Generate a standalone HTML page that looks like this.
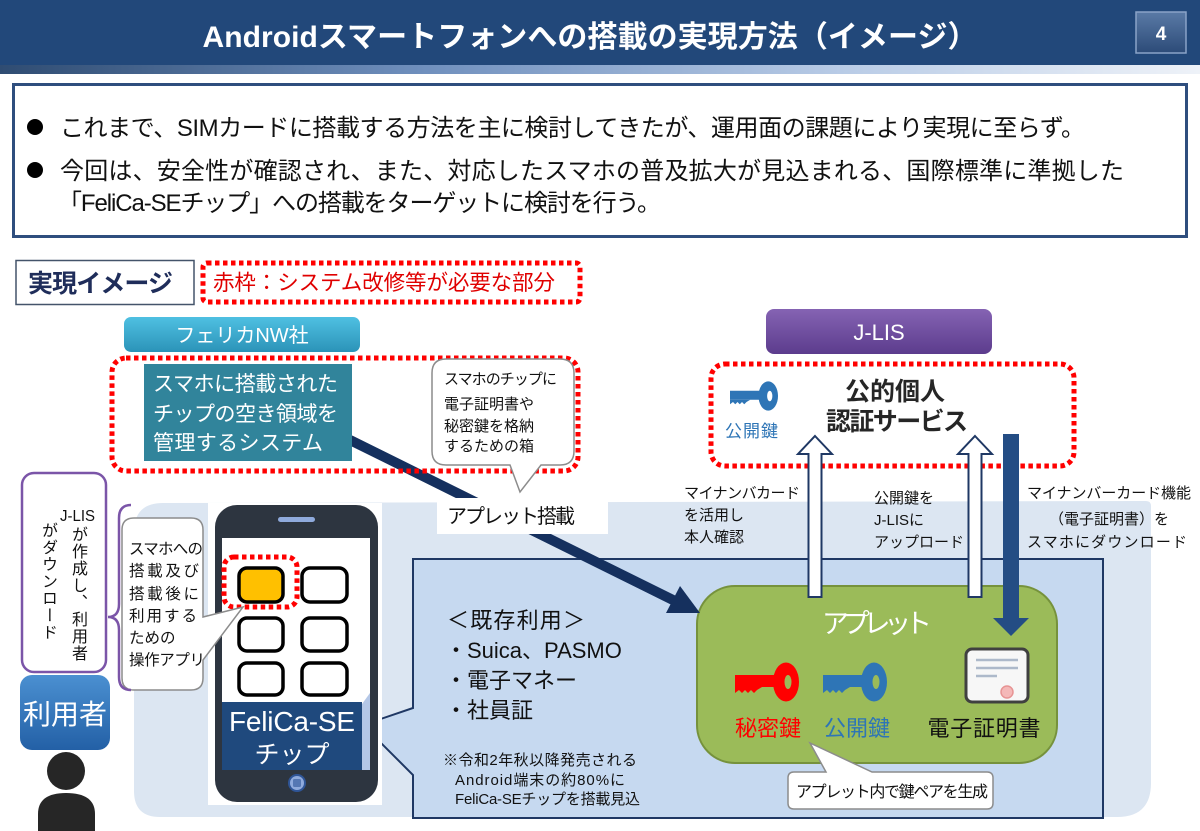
<!DOCTYPE html>
<html><head><meta charset="utf-8">
<style>
html,body{margin:0;padding:0;background:#fff;}
#w{position:relative;width:1200px;height:831px;overflow:hidden;background:#fff;font-family:"Liberation Sans","Noto Sans CJK JP",sans-serif;}
svg{position:absolute;left:0;top:0;}
svg text{font-family:"Liberation Sans","Noto Sans CJK JP",sans-serif;}
.v{position:absolute;writing-mode:vertical-rl;font-size:16px;line-height:16px;color:#111;letter-spacing:1px;font-family:"Liberation Sans","Noto Sans CJK JP",sans-serif;}
</style></head><body><div id="w">
<svg width="1200" height="831" viewBox="0 0 1200 831" xmlns="http://www.w3.org/2000/svg">
<defs>
<linearGradient id="strip" x1="0" y1="0" x2="1" y2="0">
<stop offset="0" stop-color="#2f4c72"/><stop offset="0.35" stop-color="#6f8fbd"/><stop offset="0.7" stop-color="#b8cbe6"/><stop offset="1" stop-color="#eef2f8"/></linearGradient>
<linearGradient id="pn" x1="0" y1="0" x2="0" y2="1"><stop offset="0" stop-color="#5a7aa6"/><stop offset="1" stop-color="#2c4b78"/></linearGradient>
<linearGradient id="teal" x1="0" y1="0" x2="0" y2="1"><stop offset="0" stop-color="#4fc0e2"/><stop offset="1" stop-color="#2b93b8"/></linearGradient>
<linearGradient id="purp" x1="0" y1="0" x2="0" y2="1"><stop offset="0" stop-color="#8563b3"/><stop offset="1" stop-color="#5c3c8d"/></linearGradient>
<linearGradient id="usr" x1="0" y1="0" x2="0" y2="1"><stop offset="0" stop-color="#4b90d1"/><stop offset="1" stop-color="#2360a6"/></linearGradient>
</defs>

<!-- title -->
<rect x="0" y="0" width="1200" height="65" fill="#22487a"/>
<rect x="0" y="65" width="1200" height="9" fill="url(#strip)"/>
<text x="590" y="47" font-size="30" font-weight="bold" fill="#fff" text-anchor="middle" textLength="775">Androidスマートフォンへの搭載の実現方法（イメージ）</text>
<rect x="1136" y="12" width="50" height="41" fill="url(#pn)" stroke="#8aa3c8" stroke-width="1.5"/>
<text x="1161" y="40" font-size="19" font-weight="bold" fill="#fff" text-anchor="middle">4</text>

<!-- text box -->
<rect x="13.5" y="84.5" width="1173" height="152" fill="#fff" stroke="#2f4e7e" stroke-width="3"/>
<circle cx="35" cy="127" r="8" fill="#000"/>
<circle cx="35" cy="170" r="8" fill="#000"/>
<text x="60" y="136" font-size="24" fill="#111" textLength="1025">これまで、SIMカードに搭載する方法を主に検討してきたが、運用面の課題により実現に至らず。</text>
<text x="60" y="179" font-size="24" fill="#111" textLength="1064">今回は、安全性が確認され、また、対応したスマホの普及拡大が見込まれる、国際標準に準拠した</text>
<text x="58" y="211" font-size="24" fill="#111" textLength="603">「FeliCa-SEチップ」への搭載をターゲットに検討を行う。</text>

<!-- 実現イメージ -->
<rect x="16" y="260.5" width="178" height="44" fill="#fff" stroke="#44546a" stroke-width="1.5"/>
<text x="28" y="292" font-size="25" font-weight="bold" fill="#1f2d5a" textLength="145">実現イメージ</text>
<rect x="203" y="263" width="377" height="39" rx="4" fill="none" stroke="#f00" stroke-width="5" stroke-dasharray="4.5 3.5"/>
<text x="213" y="290" font-size="21.5" fill="#e00000" textLength="342">赤枠：システム改修等が必要な部分</text>

<!-- panel -->
<path d="M133,532 Q133,502 163,502 L1146,500 Q1152,500 1152,506 L1152,783 Q1152,818 1117,818 L160,818 Q133,818 133,791 Z" fill="#dce6f2" stroke="#fff" stroke-width="2"/>
<!-- inner box -->
<path d="M413,559 H1103 V818 H413 V775 L363,725 L413,708 Z" fill="#c6d9f0" stroke="#1f3864" stroke-width="2"/>

<!-- green applet -->
<rect x="697" y="586" width="360" height="177" rx="38" fill="#9bbb59" stroke="#76923c" stroke-width="2"/>
<text x="877" y="633" font-size="27" fill="#fff" text-anchor="middle" textLength="110">アプレット</text>
<!-- red key -->
<g transform="translate(735,682)" fill="#ff0000">
<rect x="0" y="-7" width="44" height="12"/>
<polygon points="0,5 0,11 4,8 7,11 10,8 13,11 16,8 19,11 22,8 27,5"/>
<ellipse cx="51" cy="0" rx="13" ry="19.5"/>
<ellipse cx="53" cy="0" rx="3.5" ry="7" fill="#9bbb59"/>
</g>
<!-- blue key -->
<g transform="translate(823,682)" fill="#2e75b6">
<rect x="0" y="-7" width="44" height="12"/>
<polygon points="0,5 0,11 4,8 7,11 10,8 13,11 16,8 19,11 22,8 27,5"/>
<ellipse cx="51" cy="0" rx="13" ry="19.5"/>
<ellipse cx="53" cy="0" rx="3.5" ry="7" fill="#9bbb59"/>
</g>
<text x="768" y="736" font-size="22" fill="#ff0000" text-anchor="middle">秘密鍵</text>
<text x="857" y="736" font-size="22" fill="#2e75b6" text-anchor="middle">公開鍵</text>
<text x="984" y="736" font-size="22" fill="#111" text-anchor="middle" textLength="113">電子証明書</text>
<!-- certificate -->
<rect x="966" y="649" width="62" height="53" rx="6" fill="#f7f7f7" stroke="#404040" stroke-width="3"/>
<line x1="976" y1="660" x2="1018" y2="660" stroke="#adb9ca" stroke-width="2.5"/>
<line x1="976" y1="668" x2="1018" y2="668" stroke="#adb9ca" stroke-width="2.5"/>
<line x1="976" y1="676" x2="997" y2="676" stroke="#adb9ca" stroke-width="2.5"/>
<circle cx="1007" cy="692" r="6" fill="#f4b8b8" stroke="#e79494" stroke-width="1.5"/>

<!-- callout key pair -->
<path d="M794,772 H826 L810,743 L872,772 H987 Q993,772 993,778 V803 Q993,809 987,809 H794 Q788,809 788,803 V778 Q788,772 794,772 Z" fill="#fff" stroke="#8c8c8c" stroke-width="1.5"/>
<text x="796" y="797" font-size="16" fill="#111" textLength="192">アプレット内で鍵ペアを生成</text>

<!-- existing use -->
<text x="447" y="628" font-size="22" fill="#111" textLength="138">＜既存利用＞</text>
<text x="445" y="658" font-size="22" fill="#111">・Suica、PASMO</text>
<text x="445" y="688" font-size="22" fill="#111">・電子マネー</text>
<text x="445" y="718" font-size="22" fill="#111">・社員証</text>
<text x="443" y="765" font-size="15" fill="#111" textLength="194">※令和2年秋以降発売される</text>
<text x="455" y="785" font-size="15" fill="#111" textLength="170">Android端末の約80%に</text>
<text x="455" y="804" font-size="15" fill="#111" textLength="185">FeliCa-SEチップを搭載見込</text>

<!-- phone -->
<rect x="208" y="503" width="174" height="302" fill="#fff"/>
<rect x="215" y="505" width="163" height="297" rx="22" fill="#2d3540"/>
<rect x="278" y="517" width="37" height="5" rx="2.5" fill="#8faadc"/>
<rect x="222" y="538" width="148" height="232" fill="#fff"/>
<polygon points="362,704 370,693 370,770 362,770" fill="#b4c7e7"/>
<rect x="239" y="568" width="44" height="34" rx="8" fill="#ffc000" stroke="#000" stroke-width="3.5"/>
<rect x="302" y="568" width="45" height="34" rx="8" fill="#fff" stroke="#000" stroke-width="3.5"/>
<rect x="239" y="618" width="44" height="33" rx="8" fill="#fff" stroke="#000" stroke-width="3.5"/>
<rect x="302" y="618" width="45" height="33" rx="8" fill="#fff" stroke="#000" stroke-width="3.5"/>
<rect x="239" y="663" width="44" height="32" rx="8" fill="#fff" stroke="#000" stroke-width="3.5"/>
<rect x="302" y="663" width="45" height="32" rx="8" fill="#fff" stroke="#000" stroke-width="3.5"/>
<rect x="224" y="557" width="73" height="50" rx="10" fill="none" stroke="#f00" stroke-width="5" stroke-dasharray="4.5 3.5"/>
<rect x="222" y="702" width="140" height="68" fill="#1f497d"/>
<text x="292" y="731" font-size="28" fill="#fff" text-anchor="middle" textLength="126">FeliCa-SE</text>
<text x="292" y="763" font-size="25" fill="#fff" text-anchor="middle">チップ</text>
<circle cx="297" cy="783" r="8" fill="#8faadc" stroke="#2f5597" stroke-width="2"/>
<rect x="293" y="779" width="8" height="8" rx="1.5" fill="#2f5597" opacity="0.6"/>

<!-- left bubble -->
<path d="M134,518 H191 Q203,518 203,530 V617 L243,607 L203,660 V678 Q203,690 191,690 H134 Q122,690 122,678 V530 Q122,518 134,518 Z" fill="#fff" stroke="#8c8c8c" stroke-width="1.5"/>
<text x="129" y="554" font-size="15.5" fill="#111" textLength="74">スマホへの</text>
<text x="129" y="576" font-size="15.5" fill="#111" textLength="70">搭載及び</text>
<text x="129" y="599" font-size="15.5" fill="#111" textLength="70">搭載後に</text>
<text x="129" y="621" font-size="15.5" fill="#111" textLength="68">利用する</text>
<text x="129" y="643" font-size="15.5" fill="#111">ための</text>
<text x="129" y="665" font-size="15.5" fill="#111" textLength="76">操作アプリ</text>
<!-- bracket -->
<path d="M131,505 Q119,505 119,518 V604 Q119,617 108,617 Q119,617 119,630 V677 Q119,690 131,690" fill="none" stroke="#7b55a8" stroke-width="2.5"/>
<!-- purple box -->
<rect x="22" y="473" width="84" height="199" rx="12" fill="#fff" stroke="#7b55a8" stroke-width="2.5"/>
<text x="60" y="521" font-size="16" fill="#111" textLength="35" lengthAdjust="spacingAndGlyphs">J-LIS</text>
<!-- user -->
<rect x="20" y="675" width="90" height="75" rx="12" fill="url(#usr)"/>
<text x="65" y="724" font-size="28" fill="#fff" text-anchor="middle">利用者</text>
<circle cx="66" cy="771" r="19" fill="#262626"/>
<path d="M38,831 V814 Q38,793 66,793 Q95,793 95,814 V831 Z" fill="#262626"/>

<!-- navy arrow -->
<line x1="350" y1="440" x2="675" y2="601" stroke="#15305e" stroke-width="10"/>
<polygon points="700,613 666,613 680,586" fill="#15305e"/>

<!-- label box -->
<rect x="437" y="498" width="171" height="36" fill="#fff"/>
<text x="447" y="523" font-size="20" fill="#111" textLength="128">アプレット搭載</text>

<!-- top left group -->
<rect x="124" y="317" width="236" height="35" rx="7" fill="url(#teal)"/>
<text x="242" y="342" font-size="20" fill="#fff" text-anchor="middle">フェリカNW社</text>
<rect x="112" y="358" width="466" height="113" rx="14" fill="none" stroke="#f00" stroke-width="5" stroke-dasharray="4.5 3.5"/>
<rect x="144" y="364" width="208" height="97" fill="#31849b"/>
<text x="153" y="391" font-size="21" fill="#fff" textLength="185">スマホに搭載された</text>
<text x="153" y="421" font-size="21" fill="#fff" textLength="185">チップの空き領域を</text>
<text x="153" y="450" font-size="21" fill="#fff" textLength="170">管理するシステム</text>
<path d="M446,359 H560 Q574,359 574,373 V451 Q574,465 560,465 H541 L520,492 L510,465 H446 Q432,465 432,451 V373 Q432,359 446,359 Z" fill="#fff" stroke="#8c8c8c" stroke-width="1.5"/>
<text x="444" y="384" font-size="15" fill="#111" textLength="113">スマホのチップに</text>
<text x="444" y="409" font-size="15" fill="#111">電子証明書や</text>
<text x="444" y="431" font-size="15" fill="#111">秘密鍵を格納</text>
<text x="444" y="451" font-size="15" fill="#111">するための箱</text>

<!-- J-LIS group -->
<rect x="766" y="309" width="226" height="45" rx="8" fill="url(#purp)"/>
<text x="879" y="340" font-size="22" fill="#fff" text-anchor="middle">J-LIS</text>
<rect x="711" y="364" width="363" height="102" rx="14" fill="none" stroke="#f00" stroke-width="5" stroke-dasharray="4.5 3.5"/>
<g transform="translate(730,396) scale(0.75)" fill="#2e75b6">
<rect x="0" y="-7" width="44" height="12"/>
<polygon points="0,5 0,11 4,8 7,11 10,8 13,11 16,8 19,11 22,8 27,5"/>
<ellipse cx="51" cy="0" rx="13" ry="19.5"/>
<ellipse cx="53" cy="0" rx="3.5" ry="7" fill="#fff"/>
</g>
<text x="725" y="437" font-size="17" fill="#2e75b6" textLength="53">公開鍵</text>
<text x="895" y="400" font-size="25" font-weight="bold" fill="#262626" text-anchor="middle">公的個人</text>
<text x="897" y="430" font-size="25" font-weight="bold" fill="#262626" text-anchor="middle" textLength="142">認証サービス</text>

<!-- hollow arrows -->
<polygon points="815,436 832,454 821.5,454 821.5,597 808.5,597 808.5,454 798,454" fill="#fff" stroke="#1f3864" stroke-width="2"/>
<polygon points="975,436 992,454 981.5,454 981.5,597 968.5,597 968.5,454 958,454" fill="#fff" stroke="#1f3864" stroke-width="2"/>
<!-- solid arrow -->
<rect x="1003" y="434" width="16" height="185" fill="#244d84"/>
<polygon points="993,618 1029,618 1011,636" fill="#244d84"/>

<!-- arrow labels -->
<text x="684" y="498" font-size="15" fill="#111" textLength="116">マイナンバカード</text>
<text x="684" y="520" font-size="15" fill="#111">を活用し</text>
<text x="684" y="542" font-size="15" fill="#111">本人確認</text>
<text x="874" y="503" font-size="15" fill="#111">公開鍵を</text>
<text x="874" y="525" font-size="15" fill="#111">J-LISに</text>
<text x="874" y="547" font-size="15" fill="#111">アップロード</text>
<text x="1027" y="498" font-size="15" fill="#111" textLength="164">マイナンバーカード機能</text>
<text x="1109" y="524" font-size="15" fill="#111" text-anchor="middle">（電子証明書）を</text>
<text x="1027" y="547" font-size="15" fill="#111" textLength="160">スマホにダウンロード</text>
</svg>
<div class="v" style="left:69px;top:526px;">が作成し、利用者</div>
<div class="v" style="left:39px;top:522px;">がダウンロード</div>
</div></body></html>
